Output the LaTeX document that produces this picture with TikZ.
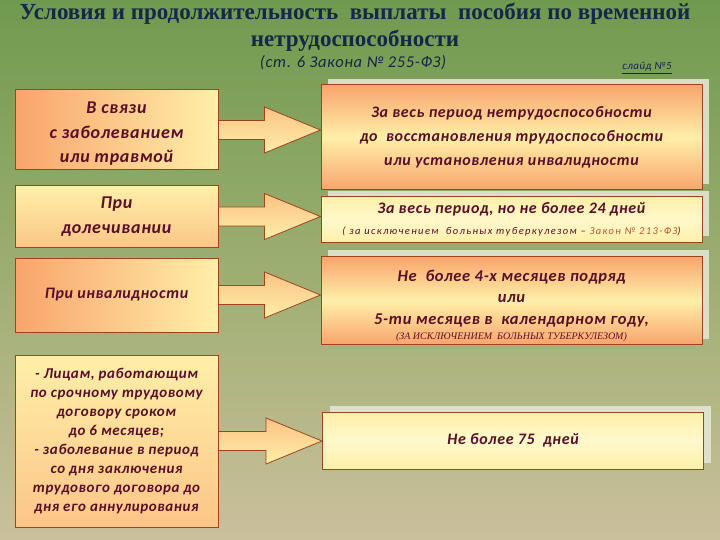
\documentclass[tikz,border=0pt]{standalone}
\usepackage{fontspec}
\setmainfont{Carlito}[LetterSpace=4]
\newfontfamily\titlefont{Liberation Serif}
\usetikzlibrary{calc,shadows}
\definecolor{bgtop}{HTML}{6F9A4E}
\definecolor{bgmid}{HTML}{9DAE72}
\definecolor{bgbot}{HTML}{CBC09C}
\definecolor{navy}{HTML}{14284A}
\definecolor{ink}{HTML}{5A0F28}
\definecolor{edge}{HTML}{A0441C}
\definecolor{peach}{HTML}{F9A46C}
\definecolor{cream}{HTML}{FFEFA8}
\definecolor{pale}{HTML}{FFF8CC}
\definecolor{haze}{HTML}{E2E5D2}
\definecolor{lawref}{HTML}{B05A2A}
\tikzset{
  box/.style={draw=edge, line width=1pt, align=center, text=ink, inner sep=3pt,
    font=\bfseries\itshape\fontsize{16}{24}\selectfont},
  hot/.style={box, left color=peach, right color=cream},
  warm/.style={box, top color=cream, bottom color=peach!55!cream},
  cond/.style={minimum width=203pt},
  res/.style={minimum width=381pt,
    copy shadow={shadow xshift=7pt, shadow yshift=6pt, fill=haze, draw=none, opacity=.9}},
  glow/.style={box, top color=peach, bottom color=peach, middle color=cream},
  mild/.style={box, top color=cream, bottom color=cream, middle color=pale},
  fat/.style={draw=edge, line width=.8pt, top color=peach!60!cream, bottom color=cream,
    to path={let \p1=(\tikztostart), \p2=(\tikztotarget) in
      (\x1,\y1+9.5pt) -- (\x2-56pt,\y1+9.5pt) -- (\x2-56pt,\y1+23pt) -- (\x2,\y1)
      -- (\x2-56pt,\y1-23pt) -- (\x2-56pt,\y1-9.5pt) -- (\x1,\y1-9.5pt) -- cycle}},
  head/.style={align=center, text=navy, font=\titlefont\bfseries\fontsize{23}{27}\selectfont},
}

\begin{document}
\begin{tikzpicture}[x=1pt, y=-1pt]
  \shade[top color=bgtop, bottom color=bgbot, middle color=bgmid] (0,0) rectangle (720,540);
  \useasboundingbox (0,0) rectangle (720,540);

  % title block
  \node[head] (title) at (355,27) {Условия и продолжительность\ \ выплаты\ \ пособия по временной\\нетрудоспособности};
  \node[text=navy, font=\itshape\fontsize{16.5}{18}\selectfont] (law) at (353,63) {(ст. 6 Закона № 255-ФЗ)};
  \node[text=navy, font=\itshape\fontsize{11}{13}\selectfont] (slide) at (647,68) {\underline{слайд №5}};

  % conditions
  \node[hot, cond, minimum height=80pt, font=\bfseries\itshape\fontsize{18}{24.5}\selectfont] (ill) at (116.5,130) {\rule{0pt}{19pt}В связи\\с заболеванием\\или травмой};
  \node[warm, cond, minimum height=61pt, font=\bfseries\itshape\fontsize{18}{24.5}\selectfont] (care) at (116.5,216.5) {При\\долечивании};
  \node[hot, cond, minimum height=74pt] (dis) at (116.5,295) {При инвалидности};
  \node[warm, cond, minimum height=172pt, font=\bfseries\itshape\fontsize{15}{19}\selectfont] (term) at (116.5,441)
    {- Лицам, работающим\\по срочному трудовому\\договору сроком\\до 6 месяцев;\\- заболевание в период\\со дня заключения\\трудового договора до\\дня его аннулирования};

  % durations
  \node[glow, res, minimum height=105pt] (full) at (511.5,137.5)
    {За весь период нетрудоспособности\\до\ \ восстановления трудоспособности\\или установления инвалидности};
  \node[mild, res, minimum height=45pt, inner sep=1pt] (days) at (511.5,219.5)
    {За весь период, но не более 24 дней\\[-3pt]{\mdseries\fontsize{10.5}{11}\selectfont\addfontfeature{LetterSpace=13} ( за исключением\ \ больных туберкулезом – \textcolor{lawref}{Закон № 213-ФЗ})}};
  \node[glow, res, minimum height=85pt, font=\bfseries\itshape\fontsize{16.5}{21.5}\selectfont] (months) at (511.5,300.5)
    {\rule{0pt}{22pt}Не\ \ более 4-х месяцев подряд\\или\\5-ти месяцев в\ \ календарном году,\\[-6pt]{\titlefont\mdseries\fontsize{10}{11}\selectfont (ЗА ИСКЛЮЧЕНИЕМ\ \ БОЛЬНЫХ ТУБЕРКУЛЕЗОМ)}};
  \node[mild, res, minimum height=57pt] (short) at (513,440.5) {Не более 75\ \ дней};

  \draw[fat] (ill.east) to (full.west);
  \draw[fat] (care.east) to (days.west);
  \draw[fat] (dis.east) to (months.west);
  \draw[fat] (term.east) to (short.west);
\end{tikzpicture}
\end{document}
